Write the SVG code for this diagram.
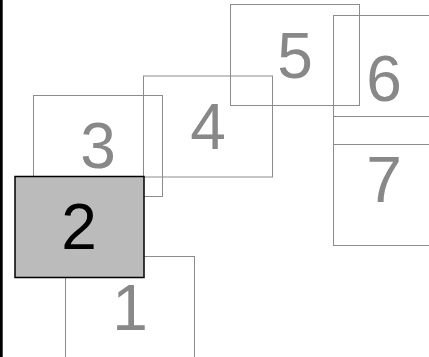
<svg xmlns="http://www.w3.org/2000/svg" width="429" height="357" viewBox="0 0 429 357">
<style>
.box{fill:none;stroke:#8c8c8c;stroke-width:1}
.sel{fill:#bbbbbb;stroke:#000;stroke-width:1.5}
.lbl{font-family:"Liberation Sans",Arial,sans-serif;font-size:64px;fill:#888;text-anchor:middle}
.lbl2{font-family:"Liberation Sans",Arial,sans-serif;font-size:64px;fill:#000;text-anchor:middle}
</style>
<rect x="0" y="0" width="429" height="357" fill="#fff"/>
<rect x="0" y="0" width="2.7" height="357" fill="#000"/>
<g id="connectors"></g>
<g id="n1"><rect class="box" x="65.5" y="256.5" width="129" height="101"/><text class="lbl" x="130" y="330">1</text></g>
<g id="n3"><rect class="box" x="33.5" y="95.5" width="129" height="101"/><text class="lbl" x="98" y="168">3</text></g>
<g id="n4"><rect class="box" x="143.5" y="76" width="129" height="101"/><text class="lbl" x="208" y="149">4</text></g>
<g id="n5"><rect class="box" x="230.5" y="4.5" width="129" height="101"/><text class="lbl" x="295" y="78">5</text></g>
<g id="n6"><rect class="box" x="333.5" y="15.5" width="101" height="129"/><text class="lbl" x="384" y="101">6</text></g>
<g id="n7"><rect class="box" x="333.5" y="116.5" width="101" height="129"/><text class="lbl" x="384" y="202">7</text></g>
<g id="n2"><rect class="sel" x="15" y="176.5" width="129" height="101"/><text class="lbl2" x="79" y="249">2</text></g>
</svg>
